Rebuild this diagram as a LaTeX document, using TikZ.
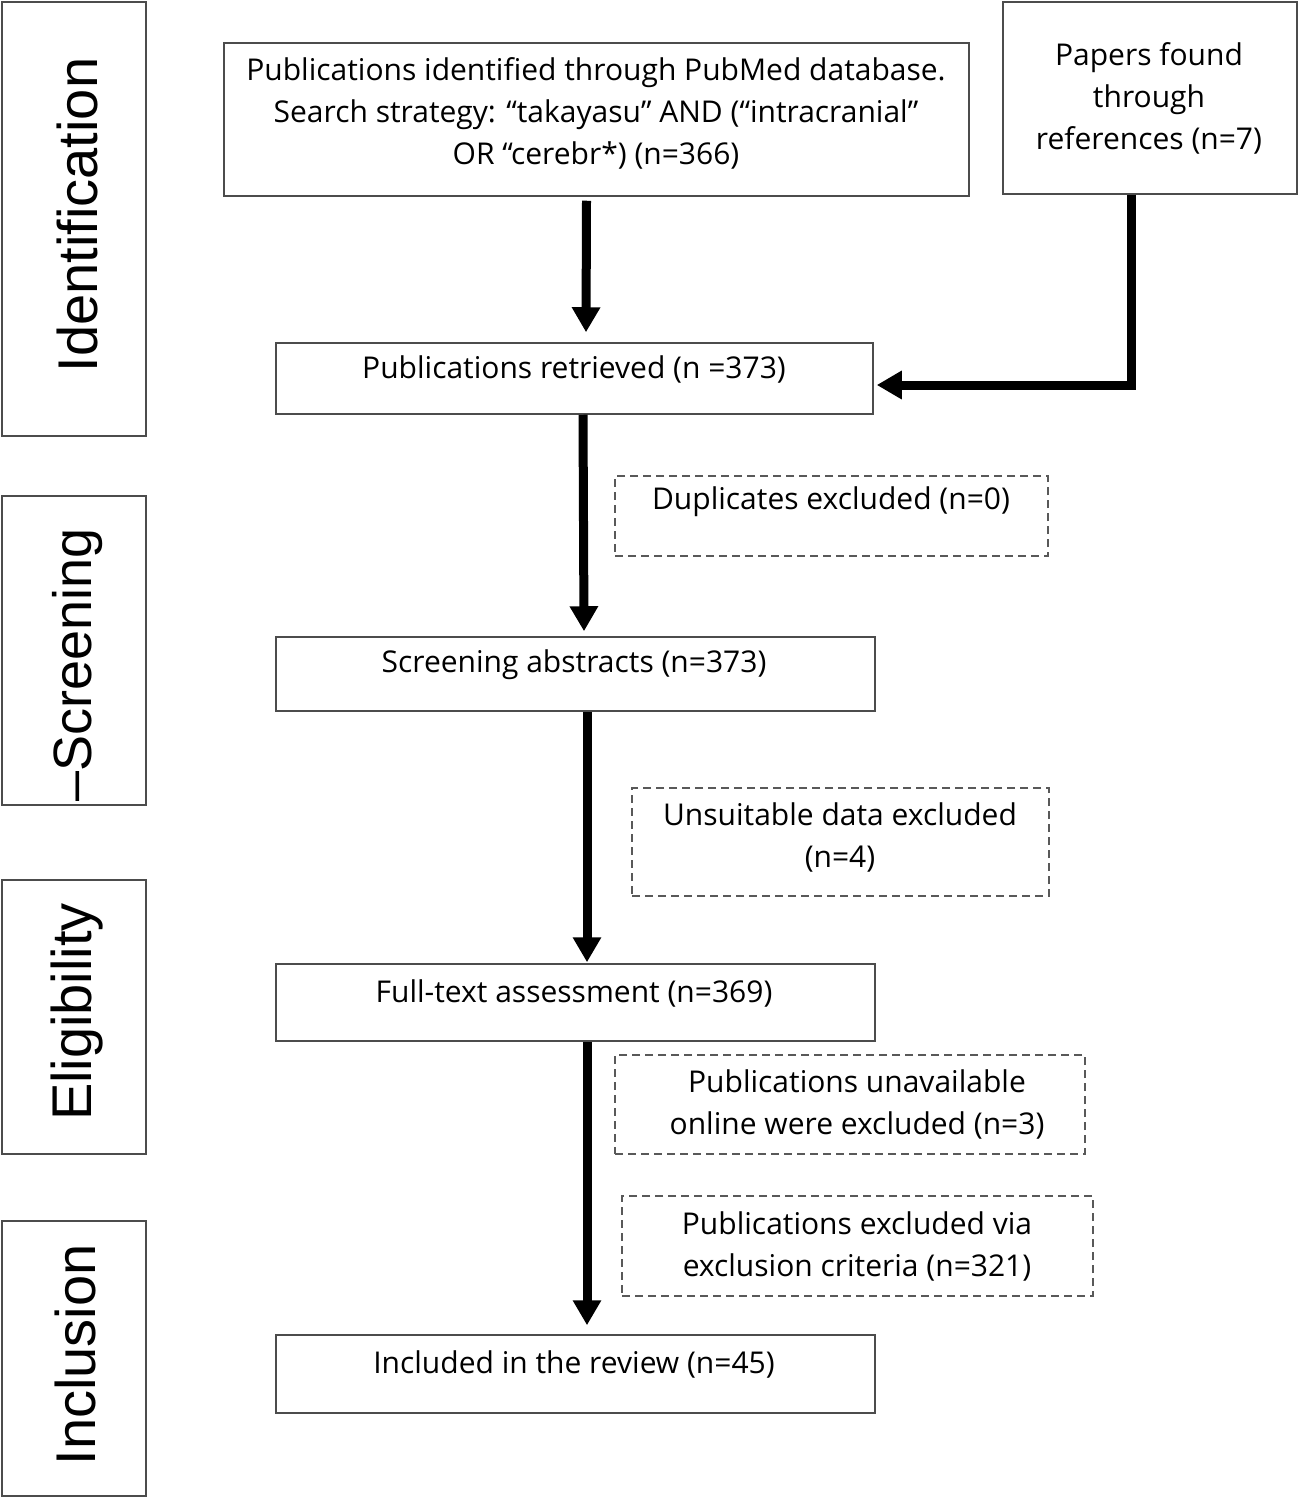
\documentclass[tikz,border=0pt]{standalone}
\usepackage{fontspec}
\setmainfont{Open Sans}
\newfontfamily\sidefont{Liberation Sans}
\usetikzlibrary{arrows.meta,fit,calc}
\begin{document}
\begin{tikzpicture}[x=0.5pt,y=-0.5pt,
  box/.style={draw=black!70,line width=0.75pt,inner sep=0pt},
  dbox/.style={draw=black!65,line width=0.6pt,dash pattern=on 4pt off 2.5pt,inner sep=0pt},
  txt/.style={align=center,font=\fontsize{15}{21}\selectfont,inner sep=0pt},
  side/.style={rotate=90,font=\sidefont\fontsize{28}{30}\selectfont,inner sep=0pt},
  arr/.style={line width=4.5pt,line join=miter,-{Triangle[length=12.5pt,width=13.5pt]}}]
\useasboundingbox (0,0) rectangle (1298,1498);
% side boxes
\node[box,fit={(2,2) (146,436)}] (s1) {};
\node[box,fit={(2,496) (146,805)}] (s2) {};
\node[box,fit={(2,880) (146,1154)}] (s3) {};
\node[box,fit={(2,1221) (146,1496)}] (s4) {};
\node[side] (s1t) at (77,215) {Identification};
\node[side,font=\sidefont\fontsize{27}{30}\selectfont] (s2t) at (78,665) {–Screening};
\node[side] (s3t) at (77,1012) {Eligibility};
\node[side] (s4t) at (75,1355) {Inclusion};
% main boxes
\node[box,fit={(224,43) (969,196)}] (A) {};
\node[txt] (At) at (596,113) {Publications identified through PubMed database.\\Search strategy: “takayasu” AND (“intracranial”\\OR “cerebr*) (n=366)};
\node[box,fit={(1003,2) (1297,194)}] (B) {};
\node[txt] (Bt) at (1149,98) {Papers found\\through\\references (n=7)};
\node[box,fit={(276,343) (873,414)}] (C) {};
\node[txt] (Ct) at (574,369) {Publications retrieved (n =373)};
\node[dbox,fit={(615,476) (1048,556)}] (D) {};
\node[txt] (Dt) at (831,502) {Duplicates excluded (n=0)};
\node[box,fit={(276,637) (875,711)}] (E) {};
\node[txt] (Et) at (574,665) {Screening abstracts (n=373)};
\node[dbox,fit={(632,788) (1049,896)}] (F) {};
\node[txt] (Ft) at (840,837) {Unsuitable data excluded\\(n=4)};
\node[box,fit={(276,964) (875,1041)}] (G) {};
\node[txt] (Gt) at (574,993) {Full-text assessment (n=369)};
\node[dbox,fit={(615,1055) (1085,1154)}] (H) {};
\node[txt] (Ht) at (857,1104) {Publications unavailable\\online were excluded (n=3)};
\node[dbox,fit={(622,1196) (1093,1296)}] (I) {};
\node[txt] (It) at (857,1246) {Publications excluded via\\exclusion criteria (n=321)};
\node[box,fit={(276,1335) (875,1413)}] (J) {};
\node[txt] (Jt) at (574,1364) {Included in the review (n=45)};
% arrows
\draw[arr] ($(A.south)+(-10,4)$) -- ($(C.north)+(11.5,-10)$);
\draw[arr] ($(B.south)+(-19,0)$) |- ($(C.east)+(3,6.5)$);
\draw[arr] ($(C.south)+(8.5,0)$) -- ($(E.north)+(8.5,-5)$);
\draw[arr] ($(E.south)+(11.5,0)$) -- ($(G.north)+(11.5,-1)$);
\draw[arr] ($(G.south)+(11.5,0)$) -- ($(J.north)+(11.5,-9)$);
\end{tikzpicture}
\end{document}
